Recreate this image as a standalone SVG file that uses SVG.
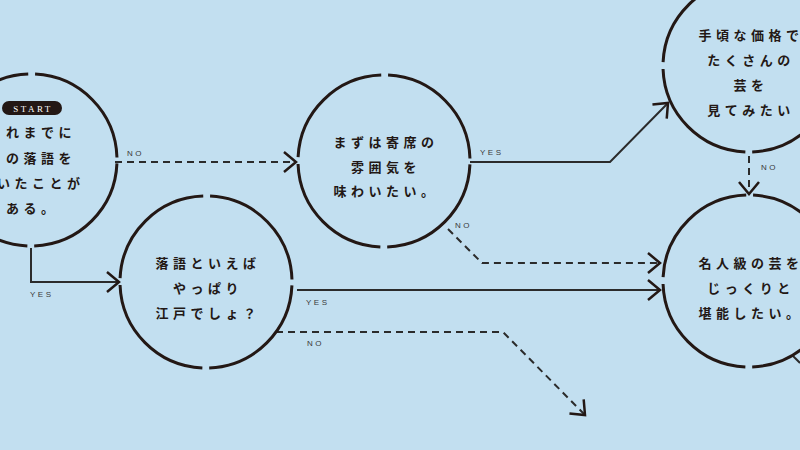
<svg xmlns="http://www.w3.org/2000/svg" width="800" height="450" viewBox="0 0 800 450">
<defs>
<style>
.ring{fill:none;stroke:#231815;stroke-width:3;stroke-dasharray:128.09 7;stroke-dashoffset:131.59}
.q{font-family:"Noto Sans CJK JP","Noto Sans CJK SC",sans-serif;font-weight:700;font-size:13px;letter-spacing:4.5px;fill:#231815}
.qm{text-anchor:middle}
.lab{font-family:"Liberation Sans","DejaVu Sans",sans-serif;font-size:8px;letter-spacing:2.5px;fill:#3a3a3a}
.solid{fill:none;stroke:#2b2b2b;stroke-width:2}
.dash{fill:none;stroke:#2b2b2b;stroke-width:2;stroke-dasharray:7 5}
</style>
<marker id="chev" markerUnits="userSpaceOnUse" markerWidth="30" markerHeight="30" viewBox="-15 -15 30 30" refX="0" refY="0" orient="auto">
<path d="M-12,-10 L0,0 L-12,10" fill="none" stroke="#231815" stroke-width="2.5" stroke-dasharray="none"/>
</marker>
</defs>
<rect width="800" height="450" fill="#c2dff0"/>

<g id="connectors">
<path class="dash" d="M115,162 H296" marker-end="url(#chev)"/>
<path class="solid" d="M470,162 H610 L668,103" marker-end="url(#chev)"/>
<path class="dash" d="M448,229 L482,263 H660" marker-end="url(#chev)"/>
<path class="solid" d="M31,248 V282 H119" marker-end="url(#chev)"/>
<path class="solid" d="M297,290 H660" marker-end="url(#chev)"/>
<path class="dash" d="M276,332 H503 L585,415" marker-end="url(#chev)"/>
<path class="dash" d="M749,156 V194" marker-end="url(#chev)"/>
<path class="solid" d="M792,355 L800,363" stroke="#231815"/>
<text class="lab" x="127" y="156">NO</text>
<text class="lab" x="480" y="155">YES</text>
<text class="lab" x="455" y="228">NO</text>
<text class="lab" x="30" y="297">YES</text>
<text class="lab" x="306" y="305">YES</text>
<text class="lab" x="307" y="346">NO</text>
<text class="lab" x="761" y="170">NO</text>
</g>

<g id="start">
<circle class="ring" cx="31" cy="160" r="86"/>
<rect x="2" y="101" width="60" height="14" rx="7" fill="#231815"/>
<text x="33" y="111.5" text-anchor="middle" font-family="Liberation Serif, serif" font-size="9" letter-spacing="2.5" fill="#ffffff">START</text>
<text class="q" x="6" y="137">れまでに</text>
<text class="q" x="6" y="163">の落語を</text>
<text class="q" x="-3" y="188">いたことが</text>
<text class="q" x="6" y="213">ある。</text>
</g>

<g id="yose">
<circle class="ring" cx="384" cy="161" r="86"/>
<text class="q qm" x="386" y="147">まずは寄席の</text>
<text class="q qm" x="386" y="172">雰囲気を</text>
<text class="q qm" x="386" y="196">味わいたい。</text>
</g>

<g id="tegoro">
<circle class="ring" cx="749" cy="66" r="86"/>
<text class="q qm" x="751" y="40">手頃な価格で</text>
<text class="q qm" x="751" y="65">たくさんの</text>
<text class="q qm" x="751" y="90">芸を</text>
<text class="q qm" x="751" y="115">見てみたい</text>
</g>

<g id="meijin">
<circle class="ring" cx="749" cy="281" r="86"/>
<text class="q qm" x="751" y="268">名人級の芸を</text>
<text class="q qm" x="751" y="293">じっくりと</text>
<text class="q qm" x="751" y="318">堪能したい。</text>
</g>

<g id="edo">
<circle class="ring" cx="206" cy="282" r="86"/>
<text class="q qm" x="208" y="268">落語といえば</text>
<text class="q qm" x="208" y="293">やっぱり</text>
<text class="q qm" x="208" y="318">江戸でしょ？</text>
</g>
</svg>
